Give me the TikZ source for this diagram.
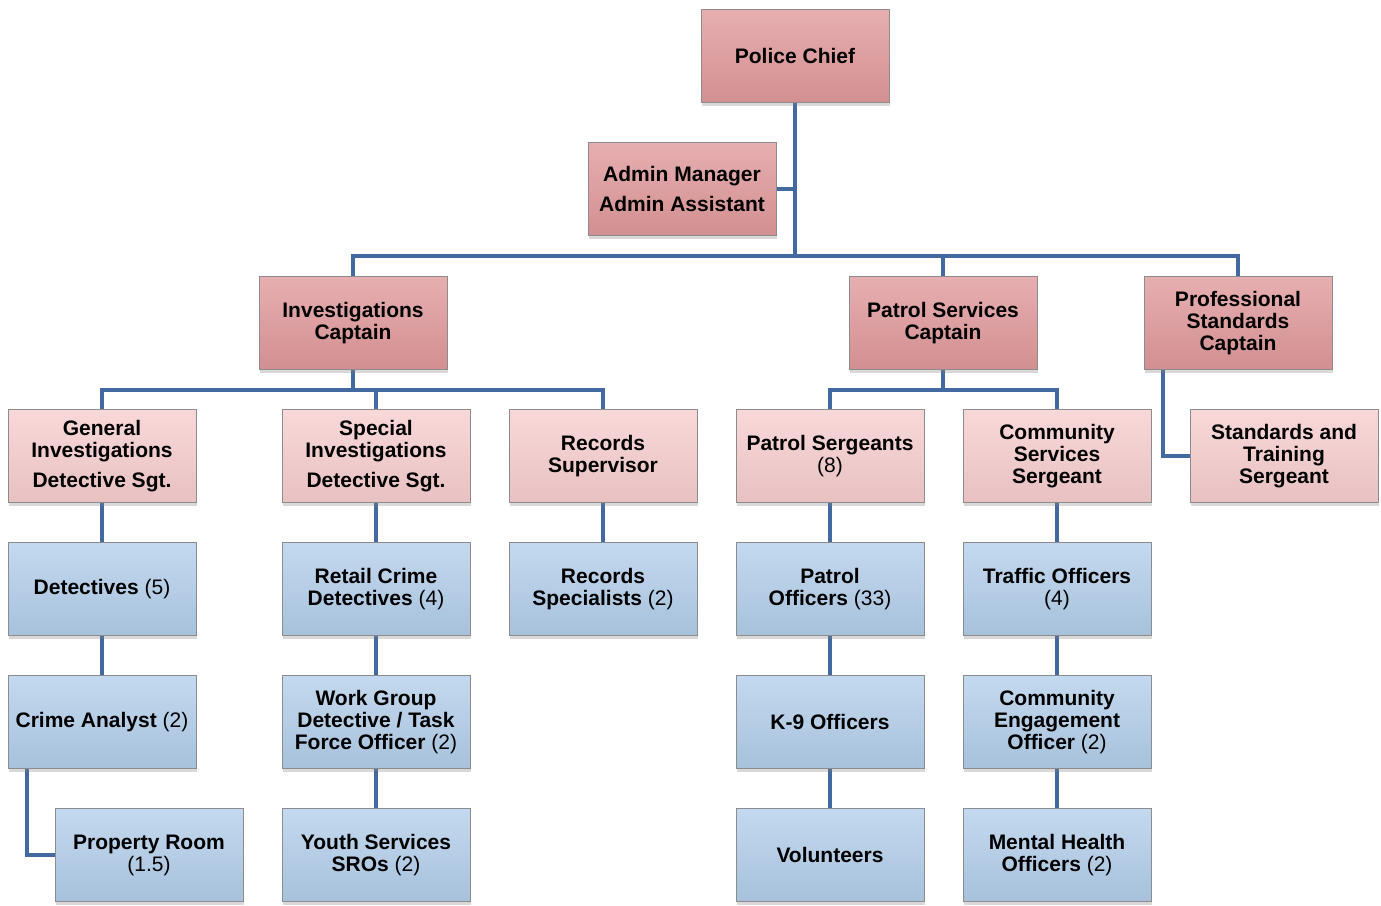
\documentclass[tikz,border=0pt]{standalone}
\usepackage{fontspec}
\setmainfont{Liberation Sans}
\usetikzlibrary{shadows,calc,backgrounds}
\definecolor{darkpink}{RGB}{224,152,154}
\definecolor{lightpink}{RGB}{247,205,206}
\definecolor{lightblue}{RGB}{178,206,234}
\definecolor{connc}{RGB}{66,106,160}
\tikzset{
  orgbox/.style={rectangle, minimum width=188pt, minimum height=93pt, inner sep=0pt,
    align=center, font=\bfseries\fontsize{21}{22}\selectfont,
    draw=black!45, line width=0.6pt,
    drop shadow={shadow xshift=1pt, shadow yshift=-3pt, opacity=0.3},
    top color=#1!78!white, middle color=#1, bottom color=#1!94!black},
  topbox/.style={orgbox=darkpink},
  midbox/.style={orgbox=lightpink},
  lowbox/.style={orgbox=lightblue},
  conn/.style={draw=connc, line width=4pt, line join=miter},
}
\newcommand{\num}[1]{{\mdseries #1}}
\begin{document}
\begin{tikzpicture}[x=1pt,y=-1pt]
\useasboundingbox (0,0) rectangle (1381,905);
% nodes
\node[topbox] (chief) at (795,56) {Police Chief};
\node[topbox] (admin) at (682,189) {Admin Manager\\[8pt]Admin Assistant};
\node[topbox] (inv) at (353,323) {Investigations\\Captain};
\node[topbox] (pat) at (943,323) {Patrol Services\\Captain};
\node[topbox] (prof) at (1238,323) {Professional\\Standards\\Captain};
\node[midbox] (gen) at (102,456) {General\\Investigations\\[8pt]Detective Sgt.};
\node[midbox] (spec) at (376,456) {Special\\Investigations\\[8pt]Detective Sgt.};
\node[midbox] (rsup) at (603,456) {Records\\Supervisor};
\node[midbox] (psgt) at (830,456) {Patrol Sergeants\\\num{(8)}};
\node[midbox] (css) at (1057,456) {Community\\Services\\Sergeant};
\node[midbox] (sts) at (1284,456) {Standards and\\Training\\Sergeant};
\node[lowbox] (det) at (102,589) {Detectives \num{(5)}};
\node[lowbox] (ret) at (376,589) {Retail Crime\\Detectives \num{(4)}};
\node[lowbox] (rspec) at (603,589) {Records\\Specialists \num{(2)}};
\node[lowbox] (pof) at (830,589) {Patrol\\Officers \num{(33)}};
\node[lowbox] (traf) at (1057,589) {Traffic Officers\\\num{(4)}};
\node[lowbox] (crime) at (102,722) {Crime Analyst \num{(2)}};
\node[lowbox] (wg) at (376,722) {Work Group\\Detective / Task\\Force Officer \num{(2)}};
\node[lowbox] (k9) at (830,722) {K-9 Officers};
\node[lowbox] (ceo) at (1057,722) {Community\\Engagement\\Officer \num{(2)}};
\node[lowbox] (prop) at (149,855) {Property Room\\\num{(1.5)}};
\node[lowbox] (youth) at (376,855) {Youth Services\\SROs \num{(2)}};
\node[lowbox] (vol) at (830,855) {Volunteers};
\node[lowbox] (mh) at (1057,855) {Mental Health\\Officers \num{(2)}};
% bus coordinates
\coordinate (bus) at ($(chief.south)+(0,153)$);
\coordinate (ibus) at ($(inv.south)+(0,20)$);
\coordinate (pbus) at ($(pat.south)+(0,20)$);
% connectors (drawn behind)
\begin{scope}[on background layer]
\draw[conn] (chief.south) -- (bus);
\draw[conn] (admin.east) -- (admin.east -| chief.south);
\draw[conn] (inv.north) |- (bus) -| (prof.north);
\draw[conn] (bus -| pat.north) -- (pat.north);
\draw[conn] (inv.south) -- (ibus);
\draw[conn] (gen.north) |- (ibus) -| (rsup.north);
\draw[conn] (ibus -| spec.north) -- (spec.north);
\draw[conn] (pat.south) -- (pbus);
\draw[conn] (psgt.north) |- (pbus) -| (css.north);
\draw[conn] ([xshift=19pt]prof.south west) |- (sts.west);
\draw[conn] ([xshift=19pt]crime.south west) |- (prop.west);
\draw[conn] (gen.south) -- (det.north);
\draw[conn] (det.south) -- (crime.north);
\draw[conn] (spec.south) -- (ret.north);
\draw[conn] (ret.south) -- (wg.north);
\draw[conn] (wg.south) -- (youth.north);
\draw[conn] (rsup.south) -- (rspec.north);
\draw[conn] (psgt.south) -- (pof.north);
\draw[conn] (pof.south) -- (k9.north);
\draw[conn] (k9.south) -- (vol.north);
\draw[conn] (css.south) -- (traf.north);
\draw[conn] (traf.south) -- (ceo.north);
\draw[conn] (ceo.south) -- (mh.north);
\end{scope}
\end{tikzpicture}
\end{document}
